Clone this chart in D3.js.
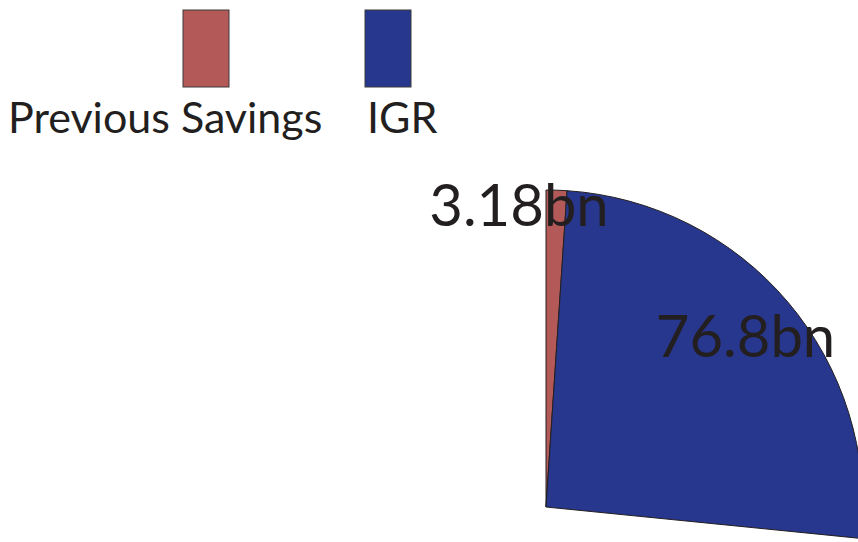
<!DOCTYPE html>
<html>
<head>
<meta charset="utf-8">
<script src="https://cdn.jsdelivr.net/npm/d3@7"></script>
<style>
  body { margin: 0; background: #fff; }
  svg { display: block; font-family: Lato, "Open Sans", sans-serif; }
</style>
</head>
<body>
<script>
// data
const categories = ["Previous Savings", "IGR"];
const values = [3.18, 76.8];
const labels = ["3.18bn", "76.8bn"];
const colors = ["#b35a59", "#27378d"];

const w = 858, h = 542;
const cx = 546, cy = 507, radius = 317;

const svg = d3.select("body").append("svg")
  .attr("width", w)
  .attr("height", h);

// pie
const pie = d3.pie()
  .sort(null)
  .startAngle(0)
  .endAngle(95.7 * Math.PI / 180);

const arcs = pie(values);

const arc = d3.arc().innerRadius(0).outerRadius(radius);

const g = svg.append("g").attr("transform", `translate(${cx},${cy})`);

g.selectAll("path")
  .data(arcs)
  .enter()
  .append("path")
  .attr("d", arc)
  .attr("fill", (d, i) => colors[i])
  .attr("stroke", "#231f20")
  .attr("stroke-width", 1);

// labels
const labelR = [301, 264];
const labelDx = [-37, -2];
g.selectAll("text.lbl")
  .data(arcs)
  .enter()
  .append("text")
  .attr("class", "lbl")
  .attr("transform", (d, i) => {
    const a = d3.arc().innerRadius(labelR[i]).outerRadius(labelR[i]);
    const c = a.centroid(d);
    return `translate(${c[0] + labelDx[i]},${c[1]})`;
  })
  .attr("text-anchor", "middle")
  .attr("dy", "0.35em")
  .style("font-size", "58px")
  .style("fill", "#231f20")
  .text((d, i) => labels[i]);

// legend
const legendX = d3.scalePoint()
  .domain(categories)
  .range([183, 365]);
const textX = [8, 367];

const legend = svg.append("g");
legend.selectAll("rect")
  .data(categories)
  .enter()
  .append("rect")
  .attr("x", d => legendX(d))
  .attr("y", 10)
  .attr("width", 46)
  .attr("height", 77)
  .attr("fill", (d, i) => colors[i])
  .attr("stroke", "#3a3a3a")
  .attr("stroke-width", 1);

legend.selectAll("text")
  .data(categories)
  .enter()
  .append("text")
  .attr("x", (d, i) => textX[i])
  .attr("y", 133)
  .style("font-size", "43px")
  .style("fill", "#231f20")
  .text(d => d);
</script>
</body>
</html>
